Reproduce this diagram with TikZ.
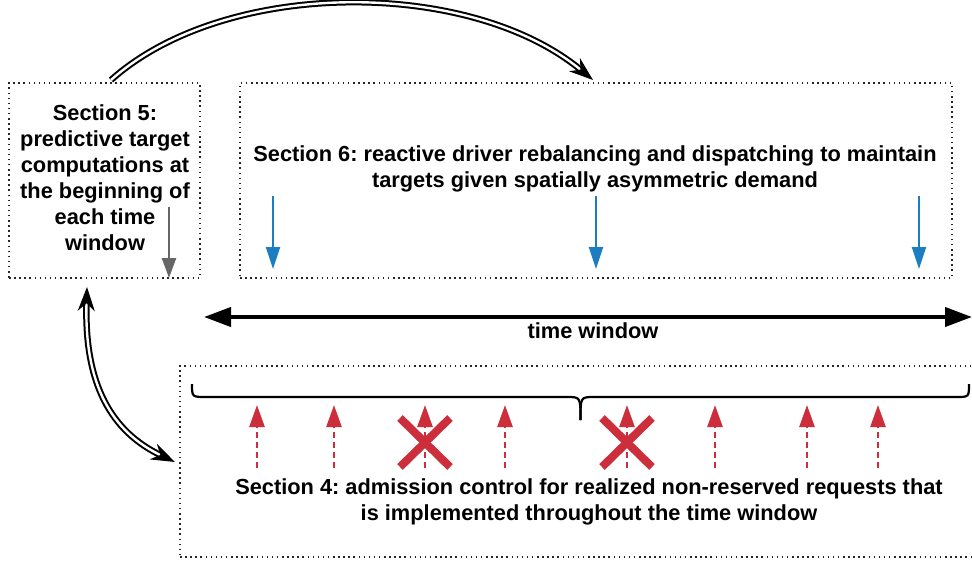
\documentclass[tikz,border=0pt]{standalone}
\usepackage{fontspec}
\setmainfont{Liberation Sans}
\usetikzlibrary{arrows.meta,calc}
\definecolor{myblue}{HTML}{1A7EC0}
\definecolor{myred}{HTML}{CC2E3C}
\definecolor{mygrey}{HTML}{666666}
\frenchspacing
\begin{document}
\begin{tikzpicture}[x=1pt,y=-1pt,
  dotbox/.style={draw=black!85,line width=1.5pt,dash pattern=on 1.5pt off 3.6pt,inner sep=0pt},
  lbl/.style={font=\fontsize{21.8}{26}\selectfont\bfseries,align=center,inner sep=0pt},
  dbl/.style={double=white,line width=2pt,double distance=2.4pt,-{Stealth[length=24pt,width=17pt]}},
  bluearr/.style={myblue,line width=2pt,-{Triangle[length=22pt,width=14pt]}},
  greyarr/.style={mygrey,line width=2.5pt,-{Triangle[length=20pt,width=14pt]}},
  redarr/.style={myred,line width=2.5pt,dash pattern=on 6pt off 4pt,-{Triangle[length=22pt,width=15pt]}},
  cross/.style={myred,line width=8pt},
  bracestyle/.style={line width=2.2pt,black}]
\useasboundingbox (0,0) rectangle (972,565);
% boxes
\node[dotbox,minimum width=191pt,minimum height=195pt] (box5) at (104.5,180.5) {};
\node[dotbox,minimum width=712pt,minimum height=195pt] (box6) at (596,180.5) {};
\node[dotbox,minimum width=800pt,minimum height=191pt] (box4) at (580,461.5) {};
% texts
\node[lbl] (t5) at (105,177.5) {Section 5:\\predictive target\\computations at\\the beginning of\\each time\\window};
\node[lbl] (t6) at (595,169) {Section 6: reactive driver rebalancing and dispatching to maintain\\targets given spatially asymmetric demand};
\node[lbl] (t4) at (589,502) {Section 4: admission control for realized non-reserved requests that\\is implemented throughout the time window};
\node[lbl] (tw) at (593,331) {time window};
% time window arrow
\coordinate (twl) at (204,317);
\coordinate (twr) at (972,317);
\draw[line width=4pt,{Triangle[length=27pt,width=19pt]}-{Triangle[length=27pt,width=19pt]}] (twl) -- (twr);
% grey arrow
\coordinate (g1) at (169,207);
\coordinate (g2) at (169,278);
\draw[greyarr] (g1) -- (g2);
% blue arrows
\foreach \x/\n in {273/a,596/b,919/c}{
  \coordinate (b\n1) at (\x,196);
  \coordinate (b\n2) at (\x,269);
  \draw[bluearr] (b\n1) -- (b\n2);
}
% top double arc
\coordinate (arcS) at (111,80);
\coordinate (arcE) at (593,80);
\draw[dbl] (arcS) .. controls (225,-22) and (470,-22) .. (arcE);
% left double arc
\coordinate (lS) at (87,287);
\coordinate (lE) at (175,462);
\draw[dbl,{Stealth[length=24pt,width=17pt]}-{Stealth[length=24pt,width=17pt]}] (lS) .. controls (84,385) and (112,432) .. (lE);
% brace
\draw[bracestyle] (192,384) .. controls (192,397) .. (206,397) -- (567,397) .. controls (580.5,397) .. (580.5,420);
\draw[bracestyle] (580.5,420) .. controls (580.5,397) .. (594,397) -- (956,397) .. controls (969,397) .. (969,384);
% red arrows
\foreach \x/\n in {257/a,334/b,425/c,505/d,627/e,715/f,807/g,878/h}{
  \coordinate (r\n1) at (\x,468);
  \coordinate (r\n2) at (\x,405);
  \draw[redarr] (r\n1) -- (r\n2);
}
% crosses
\foreach \x/\n in {425/c,627/e}{
  \coordinate (x\n) at (\x,442.5);
  \draw[cross] ($(x\n)+(-25,-24.5)$) -- ($(x\n)+(25,24.5)$);
  \draw[cross] ($(x\n)+(-25,24.5)$) -- ($(x\n)+(25,-24.5)$);
}
\end{tikzpicture}
\end{document}
